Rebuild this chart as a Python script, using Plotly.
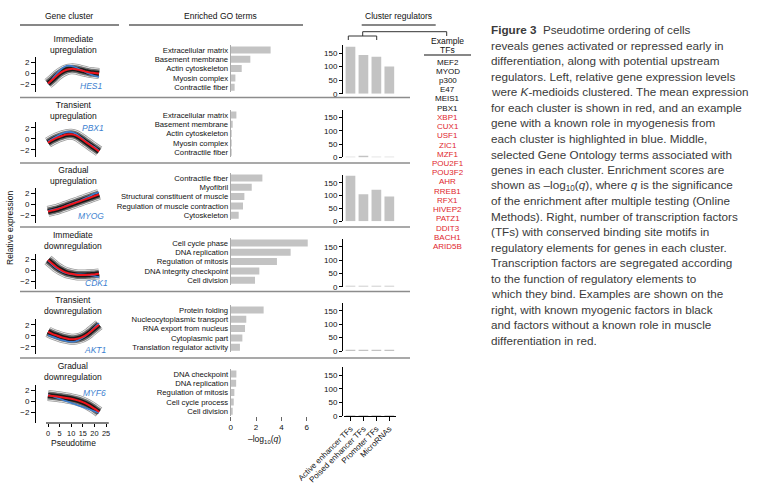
import plotly.graph_objects as go

W, H = 761, 491
FONT = "Liberation Sans"

# ---------------- data ----------------
pseudotime = [0, 2, 4, 6, 8, 10, 12, 14, 16, 18, 20, 22]
pseudotime_ticks = [0, 5, 10, 15, 20, 25]
expression_ticks = [-2, 0, 2]
cluster_titles = ["Immediate<br>upregulation", "Transient<br>upregulation", "Gradual<br>upregulation",
                  "Immediate<br>downregulation", "Transient<br>downregulation", "Gradual<br>downregulation"]
example_genes = ["HES1", "PBX1", "MYOG", "CDK1", "AKT1", "MYF6"]

mean_immediate_up = [-1.9, -1.2, -0.4, 0.2, 0.6, 0.75, 0.7, 0.5, 0.3, 0.1, 0.0, -0.1]
mean_transient_up = [-0.7, -0.2, 0.2, 0.5, 0.75, 0.8, 0.6, 0.1, -0.5, -1.1, -1.7, -2.3]
mean_gradual_up = [-1.3, -1.1, -0.9, -0.6, -0.3, 0.0, 0.3, 0.6, 0.9, 1.2, 1.5, 1.8]
mean_immediate_down = [1.8, 1.1, 0.4, -0.1, -0.5, -0.7, -0.85, -0.9, -0.9, -0.85, -0.8, -0.7]
mean_transient_down = [0.7, 0.3, 0.0, -0.3, -0.5, -0.65, -0.6, -0.4, 0.0, 0.6, 1.3, 2.0]
mean_gradual_down = [1.0, 0.9, 0.8, 0.7, 0.55, 0.4, 0.2, -0.05, -0.4, -0.85, -1.4, -2.0]

hes1 = [-2.0, -1.0, 0.0, 0.8, 1.3, 1.3, 1.0, 0.6, 0.2, -0.2, -0.5, -0.7]
pbx1 = [-0.5, 0.0, 0.5, 0.9, 1.2, 1.2, 0.9, 0.3, -0.4, -1.0, -1.5, -2.2]
myog = [-1.2, -1.0, -0.8, -0.6, -0.2, 0.1, 0.4, 0.7, 1.1, 1.5, 1.9, 2.2]
cdk1 = [1.7, 0.9, 0.2, -0.3, -0.6, -0.75, -0.8, -0.8, -0.85, -0.95, -1.1, -1.3]
akt1 = [0.1, -0.2, -0.5, -0.8, -1.0, -1.1, -1.0, -0.6, -0.1, 0.6, 1.5, 2.3]
myf6 = [1.2, 0.85, 0.55, 0.25, -0.05, -0.35, -0.65, -0.95, -1.25, -1.55, -1.85, -2.2]

go_terms_1 = ["Extracellular matrix", "Basement membrane", "Actin cytoskeleton", "Myosin complex", "Contractile fiber"]
go_scores_1 = [3.15, 1.55, 0.87, 0.37, 0.31]
go_terms_2 = ["Extracellular matrix", "Basement membrane", "Actin cytoskeleton", "Myosin complex", "Contractile fiber"]
go_scores_2 = [0.45, 0.1, 0.03, 0.02, 0.02]
go_terms_3 = ["Contractile fiber", "Myofibril", "Structural constituent of muscle",
              "Regulation of muscle contraction", "Cytoskeleton"]
go_scores_3 = [2.5, 1.66, 1.08, 0.97, 0.63]
go_terms_4 = ["Cell cycle phase", "DNA replication", "Regulation of mitosis", "DNA integrity checkpoint", "Cell division"]
go_scores_4 = [6.08, 4.73, 3.65, 2.26, 1.92]
go_terms_5 = ["Protein folding", "Nucleocytoplasmic transport", "RNA export from nucleus",
              "Cytoplasmic part", "Translation regulator activity"]
go_scores_5 = [2.6, 1.23, 1.13, 0.92, 0.73]
go_terms_6 = ["DNA checkpoint", "DNA replication", "Regulation of mitosis", "Cell cycle process", "Cell division"]
go_scores_6 = [0.45, 0.43, 0.29, 0.24, 0.13]
go_ticks = [0, 2, 4, 6]

regulator_types = ["Active enhancer TFs", "Poised enhancer TFs", "Promoter TFs", "MicroRNAs"]
regulators_1 = [173, 143, 136, 100]
regulators_2 = [2, 6, 2, 2]
regulators_3 = [177, 105, 123, 96]
regulators_4 = [2, 2, 2, 2]
regulators_5 = [2, 2, 2, 2]
regulators_6 = [2, 2, 2, 2]
regulator_ticks = [0, 50, 100, 150]

tfs_myogenic = ["MEF2", "MYOD", "p300", "E47", "MEIS1", "PBX1"]
tfs_other = ["XBP1", "CUX1", "USF1", "ZIC1", "MZF1", "POU2F1", "POU3F2", "AHR", "RREB1",
             "RFX1", "HIVEP2", "PATZ1", "DDIT3", "BACH1", "ARID5B"]

caption_lines = [
    "<b>Figure 3</b>\u00a0 Pseudotime ordering of cells",
    "reveals genes activated or repressed early in",
    "differentiation, along with potential upstream",
    "regulators. Left, relative gene expression levels",
    "were <i>K</i>-medioids clustered. The mean expression",
    "for each cluster is shown in red, and an example",
    "gene with a known role in myogenesis from",
    "each cluster is highlighted in blue. Middle,",
    "selected Gene Ontology terms associated with",
    "genes in each cluster. Enrichment scores are",
    "shown as \u2013log<sub>10</sub>(<i>q</i>), where <i>q</i> is the significance",
    "of the enrichment after multiple testing (Online",
    "Methods). Right, number of transcription factors",
    "(TFs) with conserved binding site motifs in",
    "regulatory elements for genes in each cluster.",
    "Transcription factors are segregated according",
    "to the function of regulatory elements to",
    "which they bind. Examples are shown on the",
    "right, with known myogenic factors in black",
    "and factors without a known role in muscle",
    "differentiation in red.",
]

means = [mean_immediate_up, mean_transient_up, mean_gradual_up,
         mean_immediate_down, mean_transient_down, mean_gradual_down]
examples = [hes1, pbx1, myog, cdk1, akt1, myf6]
go_terms = [go_terms_1, go_terms_2, go_terms_3, go_terms_4, go_terms_5, go_terms_6]
go_scores = [go_scores_1, go_scores_2, go_scores_3, go_scores_4, go_scores_5, go_scores_6]
regulators = [regulators_1, regulators_2, regulators_3, regulators_4, regulators_5, regulators_6]

# ---------------- layout helpers ----------------
def fx(px):
    return px / W


def fy(py):
    return 1 - py / H


def names(k):
    s = "" if k == 1 else str(k)
    return "xaxis" + s, "yaxis" + s, "x" + s, "y" + s


fig = go.Figure()
layout = {}
shapes = []
annotations = []

tickfont = dict(family=FONT, size=8, color="#111")
common = dict(showgrid=False, zeroline=False, automargin=False, fixedrange=True)

# ---------------- left: gene clusters ----------------
zero_px = [73, 138.7, 204.3, 270, 335.7, 401]
unit_px = 5.5
x_left, x_right = 36, 110
t_per_px = 1 / 2.32
t0_px = 48
for i in range(6):
    k = i + 1
    xa, ya, xr, yr = names(k)
    lo = -4.0 if i == 5 else -3.4
    hi = 3.0
    layout[xa] = dict(domain=[fx(x_left), fx(x_right)],
                      range=[(x_left - t0_px) * t_per_px, (x_right - t0_px) * t_per_px],
                      showline=False, showticklabels=(i == 5),
                      ticks="outside" if i == 5 else "", tickmode="array",
                      tickvals=pseudotime_ticks, ticklen=3, tickcolor="#000",
                      tickangle=0, tickfont=dict(family=FONT, size=7.4, color="#111"),
                      anchor=yr, **common)
    layout[ya] = dict(domain=[fy(zero_px[i] - lo * unit_px), fy(zero_px[i] - hi * unit_px)],
                      range=[lo, hi], showline=True, linecolor="#000", linewidth=1,
                      ticks="outside", ticklen=4, tickcolor="#000", tickmode="array",
                      tickvals=expression_ticks, tickfont=tickfont, anchor=xr, **common)
    for w, c in [(11, "#9a9a9a"), (9.5, "#eeeeee"), (8, "#707070"), (5, "#1a1a1a")]:
        fig.add_trace(go.Scatter(x=pseudotime, y=means[i], mode="lines",
                                 line=dict(color=c, width=w, shape="spline"),
                                 xaxis=xr, yaxis=yr, hoverinfo="skip", showlegend=False))
    fig.add_trace(go.Scatter(x=pseudotime, y=examples[i], mode="lines",
                             line=dict(color="#3d7fd0", width=1.6, shape="spline"),
                             xaxis=xr, yaxis=yr, hoverinfo="skip", showlegend=False))
    fig.add_trace(go.Scatter(x=pseudotime, y=means[i], mode="lines",
                             line=dict(color="#f0141c", width=2, shape="spline"),
                             xaxis=xr, yaxis=yr, hoverinfo="skip", showlegend=False))

# bottom pseudotime axis line (R style, spans tick range)
shapes.append(dict(type="line", xref="x6", yref="paper", x0=-0.86, x1=26.2,
                   y0=fy(423), y1=fy(423), line=dict(color="#000", width=1)))

title_y = [44.5, 110, 175.5, 240.7, 305, 371]
gene_pos = [(90.7, 86), (93, 127.7), (91, 216), (96.7, 283), (95.7, 350), (94.3, 393)]
for i in range(6):
    annotations.append(dict(x=fx(73), y=fy(title_y[i]), xref="paper", yref="paper",
                            text=cluster_titles[i], showarrow=False,
                            font=dict(family=FONT, size=8.5, color="#111"),
                            xanchor="center", yanchor="middle"))
    gx, gy = gene_pos[i]
    annotations.append(dict(x=fx(gx), y=fy(gy), xref="paper", yref="paper",
                            text="<i>" + example_genes[i] + "</i>", showarrow=False,
                            font=dict(family=FONT, size=8.5, color="#3d7fd0"),
                            xanchor="center", yanchor="middle"))

# ---------------- middle: GO terms ----------------
row0 = [50, 115, 178, 243, 310, 374]
row_step = 9.3
go_x0, go_unit = 230.7, 12.67
for i in range(6):
    k = 7 + i
    xa, ya, xr, yr = names(k)
    layout[xa] = dict(domain=[fx(go_x0), fx(go_x0 + 6.5 * go_unit)], range=[0, 6.5],
                      showline=False, showticklabels=(i == 5),
                      ticks="outside" if i == 5 else "", tickmode="array",
                      tickvals=go_ticks, ticklen=4, tickcolor="#666", tickangle=0,
                      tickfont=tickfont, anchor=yr, **common)
    top = row0[i] - row_step / 2
    bot = row0[i] + 4 * row_step + row_step / 2
    layout[ya] = dict(domain=[fy(bot), fy(top)], type="category", autorange="reversed",
                      showline=True, linecolor="#aaa", linewidth=1, ticks="",
                      tickmode="array", tickvals=go_terms[i], ticktext=go_terms[i],
                      tickfont=dict(family=FONT, size=7.7, color="#111"), anchor=xr, **common)
    fig.add_trace(go.Bar(x=go_scores[i], y=go_terms[i], orientation="h",
                         marker=dict(color="#c3c3c3", line=dict(width=0)),
                         xaxis=xr, yaxis=yr, hoverinfo="skip", showlegend=False))

annotations.append(dict(x=fx(264), y=fy(439), xref="paper", yref="paper",
                        text="\u2013log<sub>10</sub>(<i>q</i>)", showarrow=False,
                        font=dict(family=FONT, size=8.5, color="#111"),
                        xanchor="center", yanchor="middle"))

# ---------------- right: cluster regulators ----------------
reg_zero = [93.7, 157.3, 221.3, 286.7, 351, 416]
reg_150 = [40.7, 39.7, 38.6, 40, 40.3, 40.7]
for i in range(6):
    k = 13 + i
    xa, ya, xr, yr = names(k)
    layout[xa] = dict(domain=[fx(344), fx(395.8)], type="category",
                      showline=(i == 5), linecolor="#000", linewidth=1,
                      showticklabels=(i == 5), ticks="outside" if i == 5 else "",
                      ticklen=4, tickcolor="#000", tickangle=-45, tickfont=tickfont,
                      anchor=yr, **common)
    layout[ya] = dict(domain=[fy(reg_zero[i]), fy(reg_zero[i] - 180 * reg_150[i] / 150)],
                      range=[0, 180], showline=True, linecolor="#000", linewidth=1,
                      ticks="outside", ticklen=3, tickcolor="#000", tickmode="array",
                      tickvals=regulator_ticks, tickfont=tickfont,
                      anchor="free", position=fx(342), **common)
    fig.add_trace(go.Bar(x=regulator_types, y=regulators[i],
                         marker=dict(color="#c3c3c3", line=dict(width=0)),
                         xaxis=xr, yaxis=yr, hoverinfo="skip", showlegend=False))

# ---------------- headers, separators, brackets ----------------
line_k = dict(color="#111", width=1.2)
for x0, x1 in [(20, 119), (129, 303), (361.7, 435.7)]:
    shapes.append(dict(type="line", xref="paper", yref="paper", x0=fx(x0), x1=fx(x1),
                       y0=fy(25), y1=fy(25), line=line_k))
for y in [97.5, 163, 227, 291.5, 358]:
    shapes.append(dict(type="line", xref="paper", yref="paper", x0=fx(20), x1=fx(410),
                       y0=fy(y), y1=fy(y), line=dict(color="#8c8c8c", width=1.5)))


def bracket(xa_, xb, ytop, ybot):
    p = "M {} {} L {} {} L {} {} L {} {}".format(fx(xa_), fy(ybot), fx(xa_), fy(ytop),
                                                 fx(xb), fy(ytop), fx(xb), fy(ybot))
    return dict(type="path", xref="paper", yref="paper", path=p,
                line=dict(color="#333", width=1))


shapes.append(bracket(348.3, 376.7, 36, 40))
shapes.append(bracket(362.7, 446.7, 31.7, 36))
shapes.append(dict(type="line", xref="paper", yref="paper", x0=fx(424), x1=fx(471),
                   y0=fy(55), y1=fy(55), line=line_k))

for txt, x, y in [("Gene cluster", 69, 15.7), ("Enriched GO terms", 220, 15.7),
                  ("Cluster regulators", 398.5, 16), ("Example", 447.5, 40.7),
                  ("TFs", 447.5, 50), ("Pseudotime", 73.7, 443)]:
    annotations.append(dict(x=fx(x), y=fy(y), xref="paper", yref="paper", text=txt,
                            showarrow=False, font=dict(family=FONT, size=8.5, color="#111"),
                            xanchor="center", yanchor="middle"))
annotations.append(dict(x=fx(10), y=fy(228), xref="paper", yref="paper",
                        text="Relative expression", textangle=-90, showarrow=False,
                        font=dict(family=FONT, size=8.5, color="#111"),
                        xanchor="center", yanchor="middle"))

all_tfs = [(t, "#111") for t in tfs_myogenic] + [(t, "#e0262d") for t in tfs_other]
for j, (t, c) in enumerate(all_tfs):
    annotations.append(dict(x=fx(447.5), y=fy(62 + 9.23 * j), xref="paper", yref="paper",
                            text=t, showarrow=False, font=dict(family=FONT, size=8, color=c),
                            xanchor="center", yanchor="middle"))

for j, line in enumerate(caption_lines):
    annotations.append(dict(x=fx(489), y=fy(30 + 15.5 * j), xref="paper", yref="paper",
                            text=line, showarrow=False, align="left",
                            font=dict(family=FONT, size=11.7, color="#3a3a3a"),
                            xanchor="left", yanchor="middle"))

fig.update_layout(template="none", width=W, height=H, autosize=False,
                  margin=dict(l=0, r=0, t=0, b=0, pad=0),
                  paper_bgcolor="white", plot_bgcolor="rgba(0,0,0,0)",
                  bargap=0.25, hovermode=False, showlegend=False,
                  font=dict(family=FONT, size=8, color="#111"),
                  shapes=shapes, annotations=annotations, **layout)

fig.write_html("out.html", config={"displayModeBar": False},
               post_script="document.body.style.margin='0';document.body.style.overflow='hidden';")
